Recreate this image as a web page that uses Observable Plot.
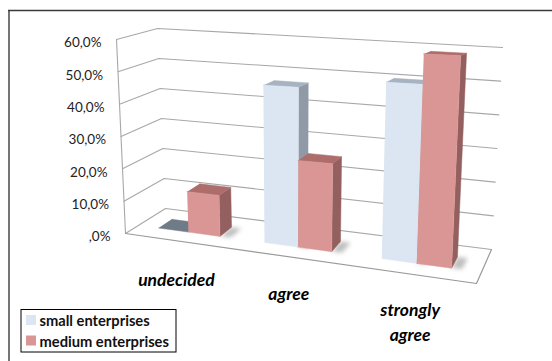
<!DOCTYPE html>
<html>
<head>
<meta charset="utf-8">
<style>html,body{margin:0;padding:0;background:#fff}svg{display:block}</style>
<script src="https://cdn.jsdelivr.net/npm/d3@7"></script>
<script src="https://cdn.jsdelivr.net/npm/@observablehq/plot@0.6"></script>
</head>
<body>
<script>
// Survey responses, percent of respondents
const categories = ["undecided", "agree", "strongly\nagree"];
const smallEnterprises = [0, 47, 50];
const mediumEnterprises = [12.5, 25.5, 58.5];
const gridValues = [0, 10, 20, 30, 40, 50, 60];
const seriesNames = ["small enterprises", "medium enterprises"];

// Corners of the perspective box: [x, y] for 0 % and for the axis maximum
const vMax = 60;
const box = {
  fl: [[125, 233], [116, 39]],
  fr: [[476, 283], [487, 53]],
  bl: [[165, 208], [157, 28]],
  br: [[491, 249], [502, 47]]
};
const mix = (a, b, t) => [a[0] + (b[0] - a[0]) * t, a[1] + (b[1] - a[1]) * t];
// u runs along the categories, d from front to back, v is the percentage
function project(u, d, v) {
  const t = v / vMax;
  const corner = c => mix(box[c][0], box[c][1], t);
  return mix(mix(corner("fl"), corner("fr"), u), mix(corner("bl"), corner("br"), u), d);
}

const groupU = [0.145, 0.465, 0.811];
const barU = [0.092, 0.098, 0.102];
const labelOffset = [27, 25, 24.5];
const depth = [0.33, 0.67];

const palette = [
  {front: "#dce6f2", top: "#a7b3c1", side: "#8f9aa6"},
  {front: "#d99694", top: "#ad6d6b", side: "#93605f"}
];

const pt = ([x, y]) => ({x, y});
const poly = (pts, color) =>
  Plot.line(pts.map(pt), {x: "x", y: "y", fill: color, stroke: color, strokeWidth: 0.5});

// One box per value, drawn back to front
function barMarks(value, i, series) {
  const u0 = groupU[i] + (series - 1) * barU[i];
  const u1 = u0 + barU[i];
  const [d0, d1] = depth;
  const c = palette[series];
  const shadow = Plot.line(
    [project(u1, d0, 0), project(u1 + 0.03, d0 + 0.02, 0), project(u1 + 0.03, d1, 0), project(u1, d1, 0)].map(pt),
    {x: "x", y: "y", fill: "#8a8a8a", stroke: "none", fillOpacity: 0.55, imageFilter: "blur(2px)"}
  );
  if (value === 0) {
    return [poly([project(u0 + 0.005, d0, 0), project(u1, d0, 0), project(u1 + 0.02, d1, 0), project(u0 + 0.005, d1, 0)], "#6f7b87")];
  }
  return [
    shadow,
    poly([project(u1, d0, 0), project(u1, d1, 0), project(u1, d1, value), project(u1, d0, value)], c.side),
    poly([project(u0, d0, value), project(u1, d0, value), project(u1, d1, value), project(u0, d1, value)], c.top),
    poly([project(u0, d0, 0), project(u1, d0, 0), project(u1, d0, value), project(u0, d0, value)], c.front)
  ];
}

const gridColor = "#a8a8a8";
const gridMarks = gridValues.map(v => Plot.line(
  [project(0, 0, v), project(0, 1, v), project(1, 1, v)].map(pt),
  {x: "x", y: "y", stroke: gridColor, strokeWidth: 1.1}
));

const tickRows = gridValues.map(v => {
  const [x, y] = project(0, 0, v);
  return {x: x - 15, y: y + 3.5, label: (v === 0 ? ",0" : v.toFixed(1).replace(".", ",")) + "%"};
});

const catRows = categories.map((label, i) => {
  const [x, y] = project(groupU[i], 0, 0);
  return {x, y: y + labelOffset[i], label};
});

const legendRows = seriesNames.map((name, i) => ({name, i, y: 320 + i * 20.5}));

const chart = Plot.plot({
  width: 552,
  height: 361,
  margin: 0,
  x: {domain: [0, 552], range: [0, 552], axis: null},
  y: {domain: [0, 361], range: [0, 361], axis: null},
  style: {fontFamily: "Lato, sans-serif", background: "#fff", color: "#000"},
  marks: [
    // outer frame
    Plot.ruleY([10], {x1: 8, x2: 552, stroke: "#3a3a3a", strokeWidth: 1.4}),
    Plot.ruleX([8.5], {y1: 10, y2: 361, stroke: "#3a3a3a", strokeWidth: 1.4}),

    ...gridMarks,
    // axis line and floor edges
    Plot.line([project(0, 0, 0), project(0, 0, vMax)].map(pt), {x: "x", y: "y", stroke: gridColor, strokeWidth: 1.1}),
    Plot.line([project(0, 0, 0), project(1, 0, 0), project(1, 1, 0)].map(pt), {x: "x", y: "y", stroke: "#9a9a9a", strokeWidth: 1.2}),

    ...categories.flatMap((_, i) => [
      ...barMarks(smallEnterprises[i], i, 0),
      ...barMarks(mediumEnterprises[i], i, 1)
    ]),

    Plot.text(tickRows, {x: "x", y: "y", text: "label", textAnchor: "end", fontSize: 13.5, fill: "#222"}),
    Plot.text(catRows, {x: "x", y: "y", text: "label", lineAnchor: "top", lineHeight: 1.43, fontSize: 17.5, fontWeight: 700, fontStyle: "italic", fill: "#000"}),

    // legend
    Plot.rect([0], {x1: 21, x2: 176, y1: 309.5, y2: 352, fill: "#fff", stroke: "#000", strokeWidth: 1}),
    Plot.rect(legendRows, {x1: 26, x2: 36, y1: d => d.y - 5, y2: d => d.y + 5, fill: d => palette[d.i].front}),
    Plot.text(legendRows, {x: 39, y: d => d.y + 1, text: "name", textAnchor: "start", fontSize: 14.7, fontWeight: 700, fill: "#111"})
  ]
});
document.body.appendChild(chart);
</script>
</body>
</html>
